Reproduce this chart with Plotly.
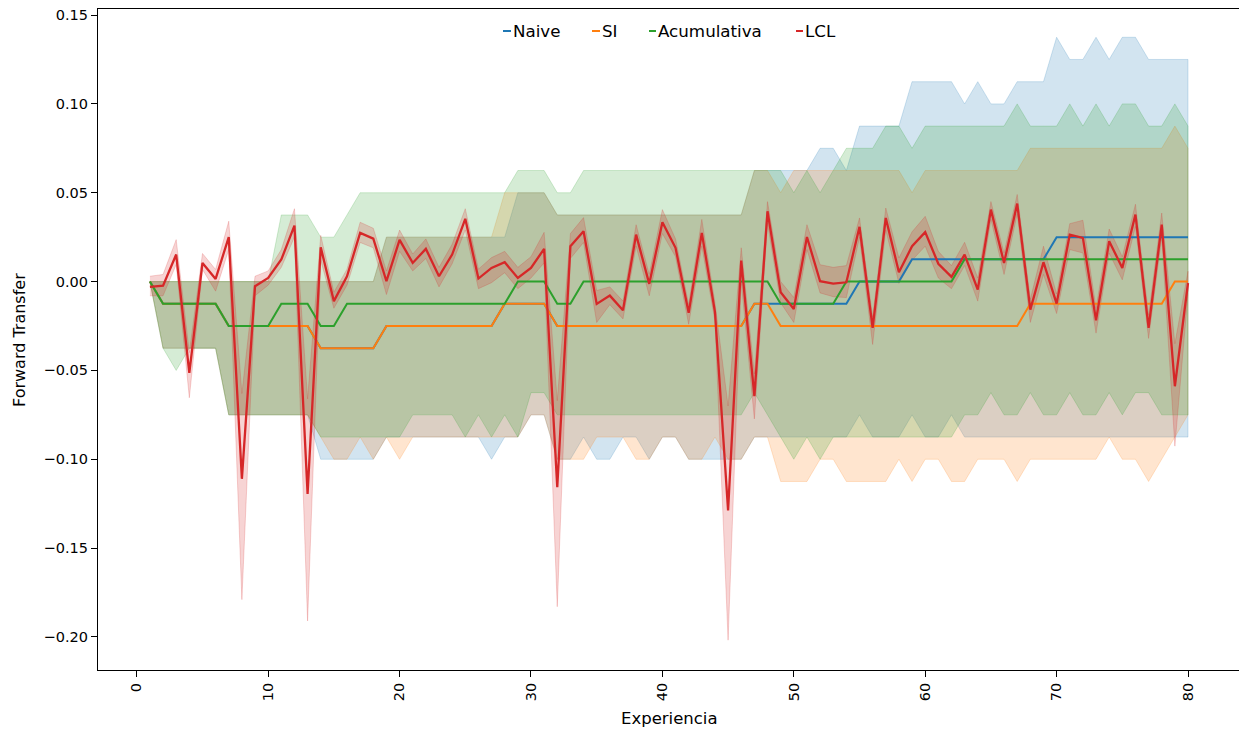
import plotly.graph_objects as go

# Experience index (1..80)
experiencias = list(range(1, 81))

# ---- Naive ----
naive_mean = [
    0, -0.0125, -0.0125, -0.0125, -0.0125, -0.0125, -0.025, -0.025, -0.025, -0.025,
    -0.025, -0.025, -0.025, -0.0375, -0.0375, -0.0375, -0.0375, -0.0375, -0.025, -0.025,
    -0.025, -0.025, -0.025, -0.025, -0.025, -0.025, -0.025, -0.0125, -0.0125, -0.0125,
    -0.0125, -0.025, -0.025, -0.025, -0.025, -0.025, -0.025, -0.025, -0.025, -0.025,
    -0.025, -0.025, -0.025, -0.025, -0.025, -0.025, -0.0125, -0.0125, -0.0125, -0.0125,
    -0.0125, -0.0125, -0.0125, -0.0125, 0, 0, 0, 0, 0.0125, 0.0125,
    0.0125, 0.0125, 0.0125, 0.0125, 0.0125, 0.0125, 0.0125, 0.0125, 0.0125, 0.025,
    0.025, 0.025, 0.025, 0.025, 0.025, 0.025, 0.025, 0.025, 0.025, 0.025,
]
naive_hi = [
    0, 0, 0, 0, 0, 0, 0, 0, 0, 0,
    0, 0, 0, 0, 0, 0, 0, 0, 0.025, 0.025,
    0.025, 0.025, 0.025, 0.025, 0.025, 0.025, 0.025, 0.025, 0.05, 0.05,
    0.05, 0.0375, 0.0375, 0.0375, 0.0375, 0.0375, 0.0375, 0.0375, 0.0375, 0.0375,
    0.0375, 0.0375, 0.0375, 0.0375, 0.0375, 0.0375, 0.0625, 0.0625, 0.0625, 0.0625,
    0.0625, 0.075, 0.075, 0.0625, 0.0875, 0.0875, 0.0875, 0.0875, 0.1125, 0.1125,
    0.1125, 0.1125, 0.1, 0.1125, 0.1, 0.1, 0.1125, 0.1125, 0.1125, 0.1375,
    0.125, 0.125, 0.1375, 0.125, 0.1375, 0.1375, 0.125, 0.125, 0.125, 0.125,
]
naive_lo = [
    0, -0.0375, -0.0375, -0.0375, -0.0375, -0.0375, -0.075, -0.075, -0.075, -0.075,
    -0.075, -0.075, -0.075, -0.1, -0.1, -0.1, -0.1, -0.1, -0.0875, -0.0875,
    -0.0875, -0.0875, -0.0875, -0.0875, -0.0875, -0.0875, -0.1, -0.0875, -0.0875, -0.075,
    -0.075, -0.1, -0.1, -0.0875, -0.1, -0.1, -0.0875, -0.0875, -0.1, -0.0875,
    -0.0875, -0.1, -0.1, -0.1, -0.1, -0.1, -0.0875, -0.0875, -0.0875, -0.0875,
    -0.0875, -0.0875, -0.0875, -0.0875, -0.075, -0.0875, -0.0875, -0.0875, -0.075, -0.0875,
    -0.0875, -0.075, -0.0875, -0.0875, -0.0875, -0.0875, -0.0875, -0.0875, -0.0875, -0.0875,
    -0.0875, -0.0875, -0.0875, -0.0875, -0.0875, -0.0875, -0.0875, -0.0875, -0.0875, -0.0875,
]

# ---- SI ----
si_mean = [
    0, -0.0125, -0.0125, -0.0125, -0.0125, -0.0125, -0.025, -0.025, -0.025, -0.025,
    -0.025, -0.025, -0.025, -0.0375, -0.0375, -0.0375, -0.0375, -0.0375, -0.025, -0.025,
    -0.025, -0.025, -0.025, -0.025, -0.025, -0.025, -0.025, -0.0125, -0.0125, -0.0125,
    -0.0125, -0.025, -0.025, -0.025, -0.025, -0.025, -0.025, -0.025, -0.025, -0.025,
    -0.025, -0.025, -0.025, -0.025, -0.025, -0.025, -0.0125, -0.0125, -0.025, -0.025,
    -0.025, -0.025, -0.025, -0.025, -0.025, -0.025, -0.025, -0.025, -0.025, -0.025,
    -0.025, -0.025, -0.025, -0.025, -0.025, -0.025, -0.025, -0.0125, -0.0125, -0.0125,
    -0.0125, -0.0125, -0.0125, -0.0125, -0.0125, -0.0125, -0.0125, -0.0125, 0, 0,
]
si_hi = [
    0, 0, 0, 0, 0, 0, 0, 0, 0, 0,
    0, 0, 0, 0, 0, 0, 0, 0, 0.025, 0.025,
    0.025, 0.025, 0.025, 0.025, 0.025, 0.025, 0.025, 0.05, 0.05, 0.05,
    0.05, 0.0375, 0.0375, 0.0375, 0.0375, 0.0375, 0.0375, 0.0375, 0.0375, 0.0375,
    0.0375, 0.0375, 0.0375, 0.0375, 0.0375, 0.0375, 0.0625, 0.0625, 0.05, 0.0625,
    0.0625, 0.0625, 0.0625, 0.0625, 0.0625, 0.0625, 0.0625, 0.0625, 0.05, 0.0625,
    0.0625, 0.0625, 0.0625, 0.0625, 0.0625, 0.0625, 0.0625, 0.075, 0.075, 0.075,
    0.075, 0.075, 0.075, 0.075, 0.075, 0.075, 0.075, 0.075, 0.0875, 0.075,
]
si_lo = [
    0, -0.0375, -0.0375, -0.0375, -0.0375, -0.0375, -0.075, -0.075, -0.075, -0.075,
    -0.075, -0.075, -0.075, -0.0875, -0.1, -0.1, -0.0875, -0.1, -0.0875, -0.1,
    -0.0875, -0.0875, -0.0875, -0.0875, -0.0875, -0.0875, -0.0875, -0.0875, -0.0875, -0.075,
    -0.075, -0.1, -0.1, -0.1, -0.0875, -0.0875, -0.0875, -0.1, -0.1, -0.0875,
    -0.0875, -0.1, -0.1, -0.0875, -0.1, -0.1, -0.0875, -0.0875, -0.1125, -0.1125,
    -0.1125, -0.1, -0.1, -0.1125, -0.1125, -0.1125, -0.1125, -0.1, -0.1125, -0.1,
    -0.1, -0.1125, -0.1125, -0.1, -0.1, -0.1, -0.1125, -0.1, -0.1, -0.1,
    -0.1, -0.1, -0.1, -0.0875, -0.1, -0.1, -0.1125, -0.1, -0.0875, -0.075,
]

# ---- Acumulativa ----
acum_mean = [
    0, -0.0125, -0.0125, -0.0125, -0.0125, -0.0125, -0.025, -0.025, -0.025, -0.025,
    -0.0125, -0.0125, -0.0125, -0.025, -0.025, -0.0125, -0.0125, -0.0125, -0.0125, -0.0125,
    -0.0125, -0.0125, -0.0125, -0.0125, -0.0125, -0.0125, -0.0125, -0.0125, 0, 0,
    0, -0.0125, -0.0125, 0, 0, 0, 0, 0, 0, 0,
    0, 0, 0, 0, 0, 0, 0, 0, -0.0125, -0.0125,
    -0.0125, -0.0125, -0.0125, 0, 0, 0, 0, 0, 0, 0,
    0, 0, 0.0125, 0.0125, 0.0125, 0.0125, 0.0125, 0.0125, 0.0125, 0.0125,
    0.0125, 0.0125, 0.0125, 0.0125, 0.0125, 0.0125, 0.0125, 0.0125, 0.0125, 0.0125,
]
acum_hi = [
    0, 0, 0, 0, 0, 0, 0, 0, 0, 0,
    0.0375, 0.0375, 0.0375, 0.025, 0.025, 0.0375, 0.05, 0.05, 0.05, 0.05,
    0.05, 0.05, 0.05, 0.05, 0.05, 0.05, 0.05, 0.05, 0.0625, 0.0625,
    0.0625, 0.05, 0.05, 0.0625, 0.0625, 0.0625, 0.0625, 0.0625, 0.0625, 0.0625,
    0.0625, 0.0625, 0.0625, 0.0625, 0.0625, 0.0625, 0.0625, 0.0625, 0.0625, 0.05,
    0.0625, 0.05, 0.0625, 0.075, 0.075, 0.075, 0.0875, 0.0875, 0.075, 0.0875,
    0.0875, 0.0875, 0.0875, 0.0875, 0.0875, 0.0875, 0.1, 0.0875, 0.0875, 0.0875,
    0.1, 0.0875, 0.1, 0.0875, 0.1, 0.1, 0.0875, 0.0875, 0.1, 0.0875,
]
acum_lo = [
    0, -0.0375, -0.05, -0.0375, -0.0375, -0.0375, -0.075, -0.075, -0.075, -0.075,
    -0.075, -0.075, -0.075, -0.0875, -0.0875, -0.0875, -0.0875, -0.0875, -0.0875, -0.0875,
    -0.075, -0.075, -0.075, -0.075, -0.0875, -0.075, -0.0875, -0.075, -0.0875, -0.0625,
    -0.0625, -0.075, -0.075, -0.075, -0.075, -0.075, -0.075, -0.075, -0.075, -0.075,
    -0.075, -0.075, -0.075, -0.075, -0.075, -0.075, -0.0625, -0.075, -0.0875, -0.1,
    -0.0875, -0.1, -0.0875, -0.0875, -0.0875, -0.0875, -0.0875, -0.0875, -0.0875, -0.0875,
    -0.0875, -0.0875, -0.075, -0.075, -0.0625, -0.075, -0.075, -0.0625, -0.075, -0.075,
    -0.0625, -0.075, -0.075, -0.0625, -0.075, -0.0625, -0.0625, -0.075, -0.075, -0.075,
]

# ---- LCL ----
lcl_mean = [
    -0.003, -0.0023, 0.0152, -0.0514, 0.0105, 0.0015, 0.025, -0.111, -0.0026, 0.002,
    0.0124, 0.0315, -0.1195, 0.0193, -0.011, 0.003, 0.0274, 0.0242, 0.0002, 0.0235,
    0.0105, 0.0184, 0.003, 0.0152, 0.0353, 0.0017, 0.0077, 0.0109, 0.002, 0.0077,
    0.0184, -0.1157, 0.0199, 0.0283, -0.0126, -0.0079, -0.0161, 0.0264, -0.0013, 0.0334,
    0.019, -0.0176, 0.0274, -0.017, -0.1288, 0.0118, -0.0645, 0.0396, -0.006, -0.0154,
    0.0251, 0.0002, -0.0011, -0.0004, 0.0308, -0.026, 0.0358, 0.0052, 0.0199, 0.0278,
    0.01, 0.0027, 0.0152, -0.0045, 0.0405, 0.0105, 0.0439, -0.0158, 0.0109, -0.0124,
    0.0264, 0.0246, -0.0218, 0.0227, 0.0077, 0.0377, -0.026, 0.032, -0.0589, -0.0008,
]
lcl_hi = [
    0.003, 0.004, 0.0236, -0.040, 0.0158, 0.0068, 0.034, -0.063, 0.003, 0.006,
    0.018, 0.041, -0.066, 0.026, -0.006, 0.007, 0.0334, 0.030, 0.006, 0.029,
    0.0155, 0.024, 0.008, 0.021, 0.041, 0.007, 0.0135, 0.017, 0.008, 0.014,
    0.0277, -0.067, 0.027, 0.036, -0.005, -0.003, -0.011, 0.032, 0.004, 0.0405,
    0.024, -0.013, 0.035, -0.012, -0.070, 0.019, -0.052, 0.045, 0.000, -0.009,
    0.032, 0.0095, 0.008, 0.009, 0.0358, -0.020, 0.0414, 0.0133, 0.028, 0.0367,
    0.017, 0.009, 0.0221, 0.002, 0.045, 0.016, 0.049, -0.010, 0.0199, -0.007,
    0.0326, 0.0345, -0.015, 0.0296, 0.014, 0.0435, -0.019, 0.0386, -0.035, 0.0058,
]
lcl_lo = [
    -0.008, -0.008, 0.0096, -0.0654, 0.0068, -0.0054, 0.018, -0.179, -0.008, -0.002,
    0.008, 0.025, -0.191, 0.012, -0.015, -0.002, 0.022, 0.019, -0.0073, 0.017,
    0.006, 0.013, -0.003, 0.010, 0.029, -0.004, -0.0006, 0.005, -0.004, 0.002,
    0.0105, -0.183, 0.013, 0.022, -0.023, -0.013, -0.021, 0.020, -0.008, 0.027,
    0.014, -0.024, 0.020, -0.022, -0.2018, 0.000, -0.0773, 0.033, -0.012, -0.023,
    0.018, -0.0064, -0.0085, -0.009, 0.025, -0.0354, 0.029, -0.001, 0.012, 0.0199,
    0.002, -0.004, 0.009, -0.011, 0.035, 0.004, 0.038, -0.023, 0.004, -0.018,
    0.018, 0.0161, -0.029, 0.016, 0.001, 0.031, -0.032, 0.025, -0.0926, -0.007,
]

series_names = ["Naive", "SI", "Acumulativa", "LCL"]
series_rgb = ["31,119,180", "255,127,14", "44,160,44", "214,39,40"]
series_data = [
    (naive_mean, naive_lo, naive_hi),
    (si_mean, si_lo, si_hi),
    (acum_mean, acum_lo, acum_hi),
    (lcl_mean, lcl_lo, lcl_hi),
]

fig = go.Figure()

# Confidence bands (alpha 0.2) underneath everything
for name, rgb, (m, lo, hi) in zip(series_names, series_rgb, series_data):
    fig.add_trace(go.Scatter(
        x=experiencias + experiencias[::-1], y=hi + lo[::-1],
        mode="lines", fill="toself",
        fillcolor=f"rgba({rgb},0.2)",
        line=dict(color=f"rgba({rgb},0.2)", width=1),
        hoverinfo="skip", showlegend=False,
    ))

# Mean lines on top, LCL last
for name, rgb, (m, lo, hi) in zip(series_names, series_rgb, series_data):
    fig.add_trace(go.Scatter(
        x=experiencias, y=m, mode="lines", name=name,
        line=dict(color=f"rgb({rgb})", width=2.3 if name == "LCL" else 2.0),
        showlegend=False,
    ))

# Plot-area geometry in pixels (used for the hand-placed legend/titles)
W, H = 1239, 730
L, R, T, B = 98, 0, 9, 60
pw, ph = W - L - R, H - T - B


def px_x(px):
    return (px - L) / pw


def px_y(py):
    return (H - B - py) / ph


# Compact horizontal legend with short line handles
legend_items = [(503, 511, 511), (592, 600, 600), (649, 656, 656), (796, 803, 803)]
shapes = []
annotations = []
for (h0, h1, tx), name, rgb in zip(legend_items, series_names, series_rgb):
    shapes.append(dict(
        type="line", xref="paper", yref="paper",
        x0=px_x(h0), x1=px_x(h1), y0=px_y(31), y1=px_y(31),
        line=dict(color=f"rgb({rgb})", width=2),
    ))
    annotations.append(dict(
        text=name, xref="paper", yref="paper", x=px_x(tx), y=px_y(31),
        xanchor="left", yanchor="middle", showarrow=False,
        font=dict(family="DejaVu Sans", size=16.7, color="black"),
    ))

annotations.append(dict(
    text="Experiencia", xref="paper", yref="paper", x=px_x(669), y=px_y(718),
    xanchor="center", yanchor="middle", showarrow=False,
    font=dict(family="DejaVu Sans", size=16.5, color="black"),
))
annotations.append(dict(
    text="Forward Transfer", xref="paper", yref="paper", x=px_x(19), y=px_y(340),
    xanchor="center", yanchor="middle", showarrow=False, textangle=-90,
    font=dict(family="DejaVu Sans", size=16, color="black"),
))

fig.update_layout(
    width=W, height=H,
    margin=dict(l=L, r=R, t=T, b=B),
    paper_bgcolor="white", plot_bgcolor="white",
    showlegend=False,
    shapes=shapes, annotations=annotations,
    font=dict(family="DejaVu Sans", color="black"),
)
fig.update_xaxes(
    range=[-2.95, 83.88], tickmode="array", tickvals=list(range(0, 81, 10)),
    tickangle=-90, ticks="outside", ticklen=6, tickwidth=1, tickcolor="black",
    showline=True, linecolor="black", linewidth=1.2, mirror=True,
    showgrid=False, zeroline=False,
    tickfont=dict(family="DejaVu Sans", size=14.5, color="black"),
)
fig.update_yaxes(
    range=[-0.2186, 0.1534], tickmode="array",
    tickvals=[-0.20, -0.15, -0.10, -0.05, 0.0, 0.05, 0.10, 0.15],
    tickformat=".2f",
    ticks="outside", ticklen=6, tickwidth=1, tickcolor="black",
    showline=True, linecolor="black", linewidth=1.2,
    showgrid=False, zeroline=False,
    tickfont=dict(family="DejaVu Sans", size=14.5, color="black"),
)

fig.write_html("out.html")
